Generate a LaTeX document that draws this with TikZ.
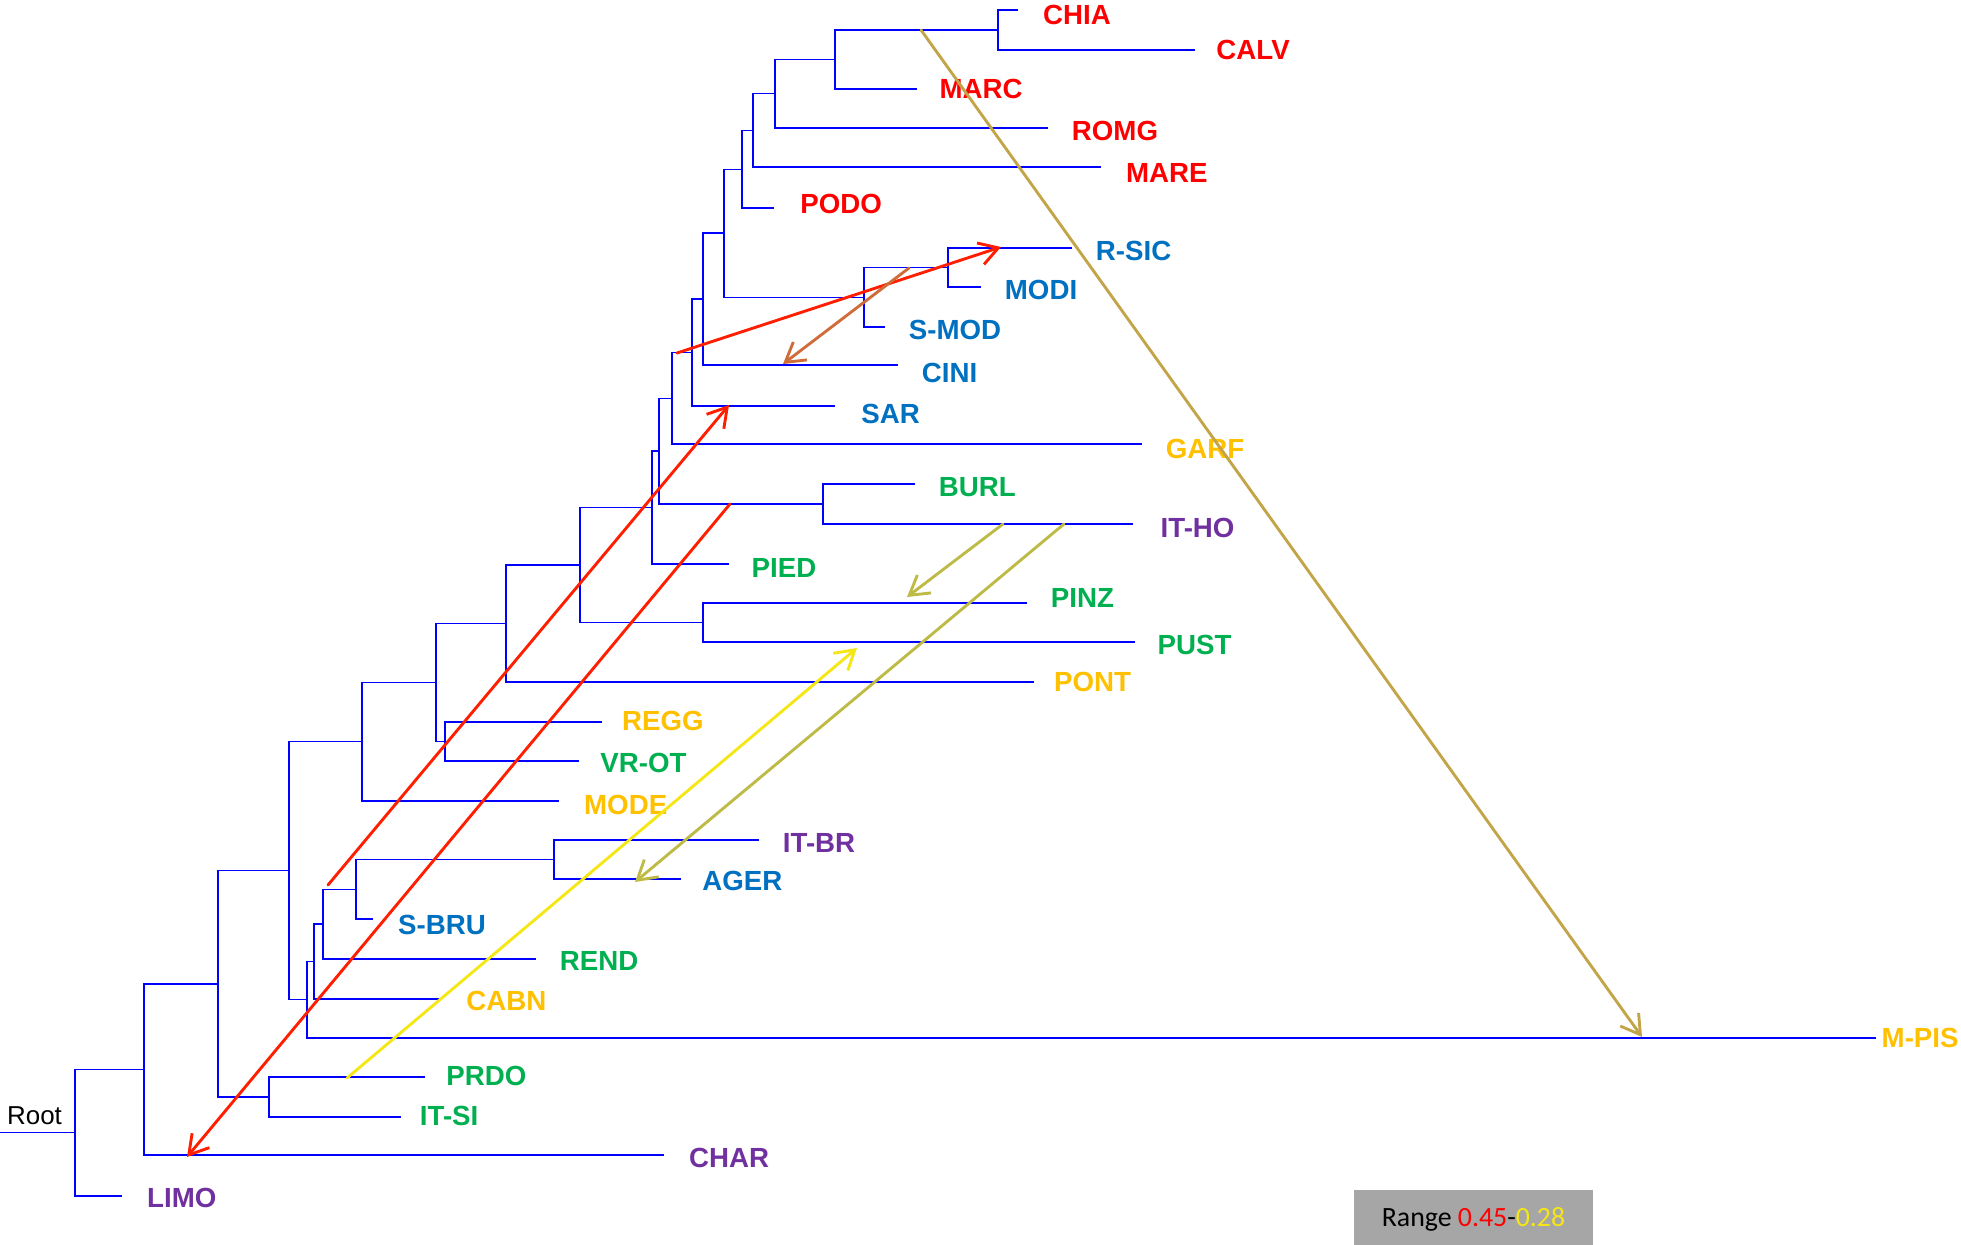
\documentclass[tikz,border=0pt]{standalone}
\usepackage{fontspec}
\usetikzlibrary{arrows.meta, positioning}
\newfontfamily\leaffont{Liberation Sans}
\newfontfamily\rangefont{Carlito}
\definecolor{TreeBlue}{HTML}{0000FF}
\definecolor{PopRed}{HTML}{FF0000}
\definecolor{PopBlue}{HTML}{0070C0}
\definecolor{PopGold}{HTML}{FFC000}
\definecolor{PopGreen}{HTML}{00B050}
\definecolor{PopPurple}{HTML}{7030A0}
\definecolor{MigRed}{HTML}{FF1E00}
\definecolor{MigGold}{HTML}{C4A448}
\definecolor{MigOlive}{HTML}{BDBB45}
\definecolor{MigBrown}{HTML}{D06C3A}
\definecolor{MigYellow}{HTML}{F5E616}
\definecolor{BoxGray}{HTML}{A6A6A6}

\begin{document}
\begin{tikzpicture}[x=0.4mm, y=-0.4mm,
    branch/.style={TreeBlue, line width=0.55mm},
    lbl/.style={anchor=west, inner sep=0pt,
      font=\leaffont\bfseries\fontsize{31.5}{36}\selectfont},
    mig/.style={-{Straight Barb[length=7.5mm, width=9mm]}, line width=1.15mm, line cap=round}]
  \useasboundingbox (0,0) rectangle (1961,1245);

  % tips of the leaves
  \coordinate (chia) at (1018,10);   \coordinate (calv) at (1195,50);
  \coordinate (marc) at (917,89);    \coordinate (romg) at (1048,128);
  \coordinate (mare) at (1101,167);  \coordinate (podo) at (774,208);
  \coordinate (rsic) at (1072,248);  \coordinate (modi) at (981,287);
  \coordinate (smod) at (885,327);   \coordinate (cini) at (898,365);
  \coordinate (sar) at (835,406);    \coordinate (garf) at (1142,444);
  \coordinate (burl) at (915,484);   \coordinate (itho) at (1133,524);
  \coordinate (pied) at (729,564);   \coordinate (pinz) at (1027,603);
  \coordinate (pust) at (1135,642);  \coordinate (pont) at (1034,682);
  \coordinate (regg) at (602,722);   \coordinate (vrot) at (579,761);
  \coordinate (mode) at (559,801);   \coordinate (itbr) at (759,840);
  \coordinate (ager) at (681,879);   \coordinate (sbru) at (373,919);
  \coordinate (rend) at (536,959);   \coordinate (cabn) at (440,999);
  \coordinate (mpis) at (1876,1038); \coordinate (prdo) at (425,1077);
  \coordinate (itsi) at (401,1117);  \coordinate (char) at (664,1155);
  \coordinate (limo) at (122,1196);

  % inner nodes
  \coordinate (n1) at (998,30);      \coordinate (n2) at (835,59.5);
  \coordinate (n3) at (775,93.75);   \coordinate (n4) at (753,130.4);
  \coordinate (n5) at (742,169.2);   \coordinate (n6) at (948,267.5);
  \coordinate (n7) at (864,297.25);  \coordinate (n8) at (724,233);
  \coordinate (n9) at (703,299);     \coordinate (n10) at (692,352.5);
  \coordinate (n11) at (672,398.25); \coordinate (n12) at (823,504);
  \coordinate (n13) at (659,451.1);  \coordinate (n14) at (652,507.6);
  \coordinate (n15) at (703,622.5);  \coordinate (n16) at (580,565);
  \coordinate (n17) at (506,623.5);  \coordinate (n18) at (445,741.5);
  \coordinate (n19) at (436,682.5);  \coordinate (n20) at (362,741.75);
  \coordinate (n21) at (554,859.5);  \coordinate (n22) at (356,889.25);
  \coordinate (n23) at (323,924.1);  \coordinate (n24) at (314,961.6);
  \coordinate (n25) at (307,999.8);  \coordinate (n26) at (289,870.8);
  \coordinate (n27) at (269,1097);   \coordinate (n28) at (218,983.9);
  \coordinate (n29) at (144,1069.5); \coordinate (n30) at (75,1132.7);
  \coordinate (rootin) at (0,1132.7);

  % tree
  \draw[branch] (chia) -| (n1) |- (calv);
  \draw[branch] (n1) -| (n2) |- (marc);
  \draw[branch] (n2) -| (n3) |- (romg);
  \draw[branch] (n3) -| (n4) |- (mare);
  \draw[branch] (n4) -| (n5) |- (podo);
  \draw[branch] (rsic) -| (n6) |- (modi);
  \draw[branch] (n6) -| (n7) |- (smod);
  \draw[branch] (n5) -| (n8) |- (n7);
  \draw[branch] (n8) -| (n9) |- (cini);
  \draw[branch] (n9) -| (n10) |- (sar);
  \draw[branch] (n10) -| (n11) |- (garf);
  \draw[branch] (burl) -| (n12) |- (itho);
  \draw[branch] (n11) -| (n13) |- (n12);
  \draw[branch] (n13) -| (n14) |- (pied);
  \draw[branch] (pinz) -| (n15) |- (pust);
  \draw[branch] (n14) -| (n16) |- (n15);
  \draw[branch] (n16) -| (n17) |- (pont);
  \draw[branch] (regg) -| (n18) |- (vrot);
  \draw[branch] (n17) -| (n19) |- (n18);
  \draw[branch] (n19) -| (n20) |- (mode);
  \draw[branch] (itbr) -| (n21) |- (ager);
  \draw[branch] (n21) -| (n22) |- (sbru);
  \draw[branch] (n22) -| (n23) |- (rend);
  \draw[branch] (n23) -| (n24) |- (cabn);
  \draw[branch] (n24) -| (n25) |- (mpis);
  \draw[branch] (n20) -| (n26) |- (n25);
  \draw[branch] (prdo) -| (n27) |- (itsi);
  \draw[branch] (n26) -| (n28) |- (n27);
  \draw[branch] (n28) -| (n29) |- (char);
  \draw[branch] (n29) -| (n30) |- (limo);
  \draw[branch] (rootin) -- (n30);

  % population names
  \node[lbl, text=PopRed, right=10mm of chia, yshift=-2mm] (tchia) {CHIA};
  \node[lbl, text=PopRed, right=8.5mm of calv] (tcalv) {CALV};
  \node[lbl, text=PopRed, right=9mm of marc] (tmarc) {MARC};
  \node[lbl, text=PopRed, right=9.5mm of romg, yshift=-1.2mm] (tromg) {ROMG};
  \node[lbl, text=PopRed, right=10mm of mare, yshift=-2.2mm] (tmare) {MARE};
  \node[lbl, text=PopRed, right=10.5mm of podo, yshift=1.6mm] (tpodo) {PODO};
  \node[lbl, text=PopBlue, right=9.5mm of rsic, yshift=-1.2mm] (trsic) {R-SIC};
  \node[lbl, text=PopBlue, right=9.5mm of modi, yshift=-1.2mm] (tmodi) {MODI};
  \node[lbl, text=PopBlue, right=9.5mm of smod, yshift=-1.2mm] (tsmod) {S-MOD};
  \node[lbl, text=PopBlue, right=9.5mm of cini, yshift=-3mm] (tcini) {CINI};
  \node[lbl, text=PopBlue, right=10.5mm of sar, yshift=-3.2mm] (tsar) {SAR};
  \node[lbl, text=PopGold, right=9.5mm of garf, yshift=-2mm] (tgarf) {GARF};
  \node[lbl, text=PopGreen, right=9.5mm of burl, yshift=-1.4mm] (tburl) {BURL};
  \node[lbl, text=PopPurple, right=11mm of itho, yshift=-1.4mm] (titho) {IT-HO};
  \node[lbl, text=PopGreen, right=9mm of pied, yshift=-1.4mm] (tpied) {PIED};
  \node[lbl, text=PopGreen, right=9.5mm of pinz, yshift=2.2mm] (tpinz) {PINZ};
  \node[lbl, text=PopGreen, right=9mm of pust, yshift=-1.2mm] (tpust) {PUST};
  \node[lbl, text=PopGold, right=8mm of pont] (tpont) {PONT};
  \node[lbl, text=PopGold, right=8mm of regg, yshift=0.4mm] (tregg) {REGG};
  \node[lbl, text=PopGreen, right=8.5mm of vrot, yshift=-0.6mm] (tvrot) {VR-OT};
  \node[lbl, text=PopGold, right=10mm of mode, yshift=-1.6mm] (tmode) {MODE};
  \node[lbl, text=PopPurple, right=9.5mm of itbr, yshift=-1mm] (titbr) {IT-BR};
  \node[lbl, text=PopBlue, right=8.5mm of ager, yshift=-0.8mm] (tager) {AGER};
  \node[lbl, text=PopBlue, right=10mm of sbru, yshift=-2.4mm] (tsbru) {S-BRU};
  \node[lbl, text=PopGreen, right=9.5mm of rend, yshift=-0.8mm] (trend) {REND};
  \node[lbl, text=PopGold, right=10.5mm of cabn, yshift=-0.8mm] (tcabn) {CABN};
  \node[lbl, text=PopGold, right=2.2mm of mpis] (tmpis) {M-PIS};
  \node[lbl, text=PopGreen, right=8.5mm of prdo, yshift=0.4mm] (tprdo) {PRDO};
  \node[lbl, text=PopGreen, right=7.5mm of itsi, yshift=0.4mm] (titsi) {IT-SI};
  \node[lbl, text=PopPurple, right=10mm of char, yshift=-1mm] (tchar) {CHAR};
  \node[lbl, text=PopPurple, right=10mm of limo, yshift=-0.6mm] (tlimo) {LIMO};
  \node[anchor=base west, inner sep=0pt, font=\leaffont\fontsize{29.5}{34}\selectfont]
    (troot) at (7,1124) {Root};

  % migration arrows
  \coordinate (g1s) at (921,30);    \coordinate (g1e) at (1642,1037);
  \coordinate (r1s) at (677,353);   \coordinate (r1e) at (1001,247);
  \coordinate (b1s) at (909,268);   \coordinate (b1e) at (783,364);
  \coordinate (r2s) at (328,885);   \coordinate (r2e) at (729,405);
  \coordinate (r3s) at (730,504);   \coordinate (r3e) at (187,1157);
  \coordinate (y1s) at (347,1078);  \coordinate (y1e) at (857,648);
  \coordinate (o1s) at (1064,524);  \coordinate (o1e) at (635,882);
  \coordinate (o2s) at (1003,524);  \coordinate (o2e) at (907,597);
  \draw[mig, MigGold] (g1s) -- (g1e);
  \draw[mig, MigRed] (r1s) -- (r1e);
  \draw[mig, MigBrown] (b1s) -- (b1e);
  \draw[mig, MigRed] (r2s) -- (r2e);
  \draw[mig, MigRed] (r3s) -- (r3e);
  \draw[mig, MigYellow] (y1s) -- (y1e);
  \draw[mig, MigOlive] (o1s) -- (o1e);
  \draw[mig, MigOlive] (o2s) -- (o2e);

  % weight range
  \node[fill=BoxGray, inner sep=0pt, minimum width=95.6mm, minimum height=22mm,
    text height=9mm, text depth=2mm,
    font=\rangefont\fontsize{31.7}{36}\selectfont] (range) at (1473.5,1217.5)
    {Range \textcolor{PopRed}{0.45}-\textcolor{MigYellow}{0.28}};
\end{tikzpicture}
\end{document}
